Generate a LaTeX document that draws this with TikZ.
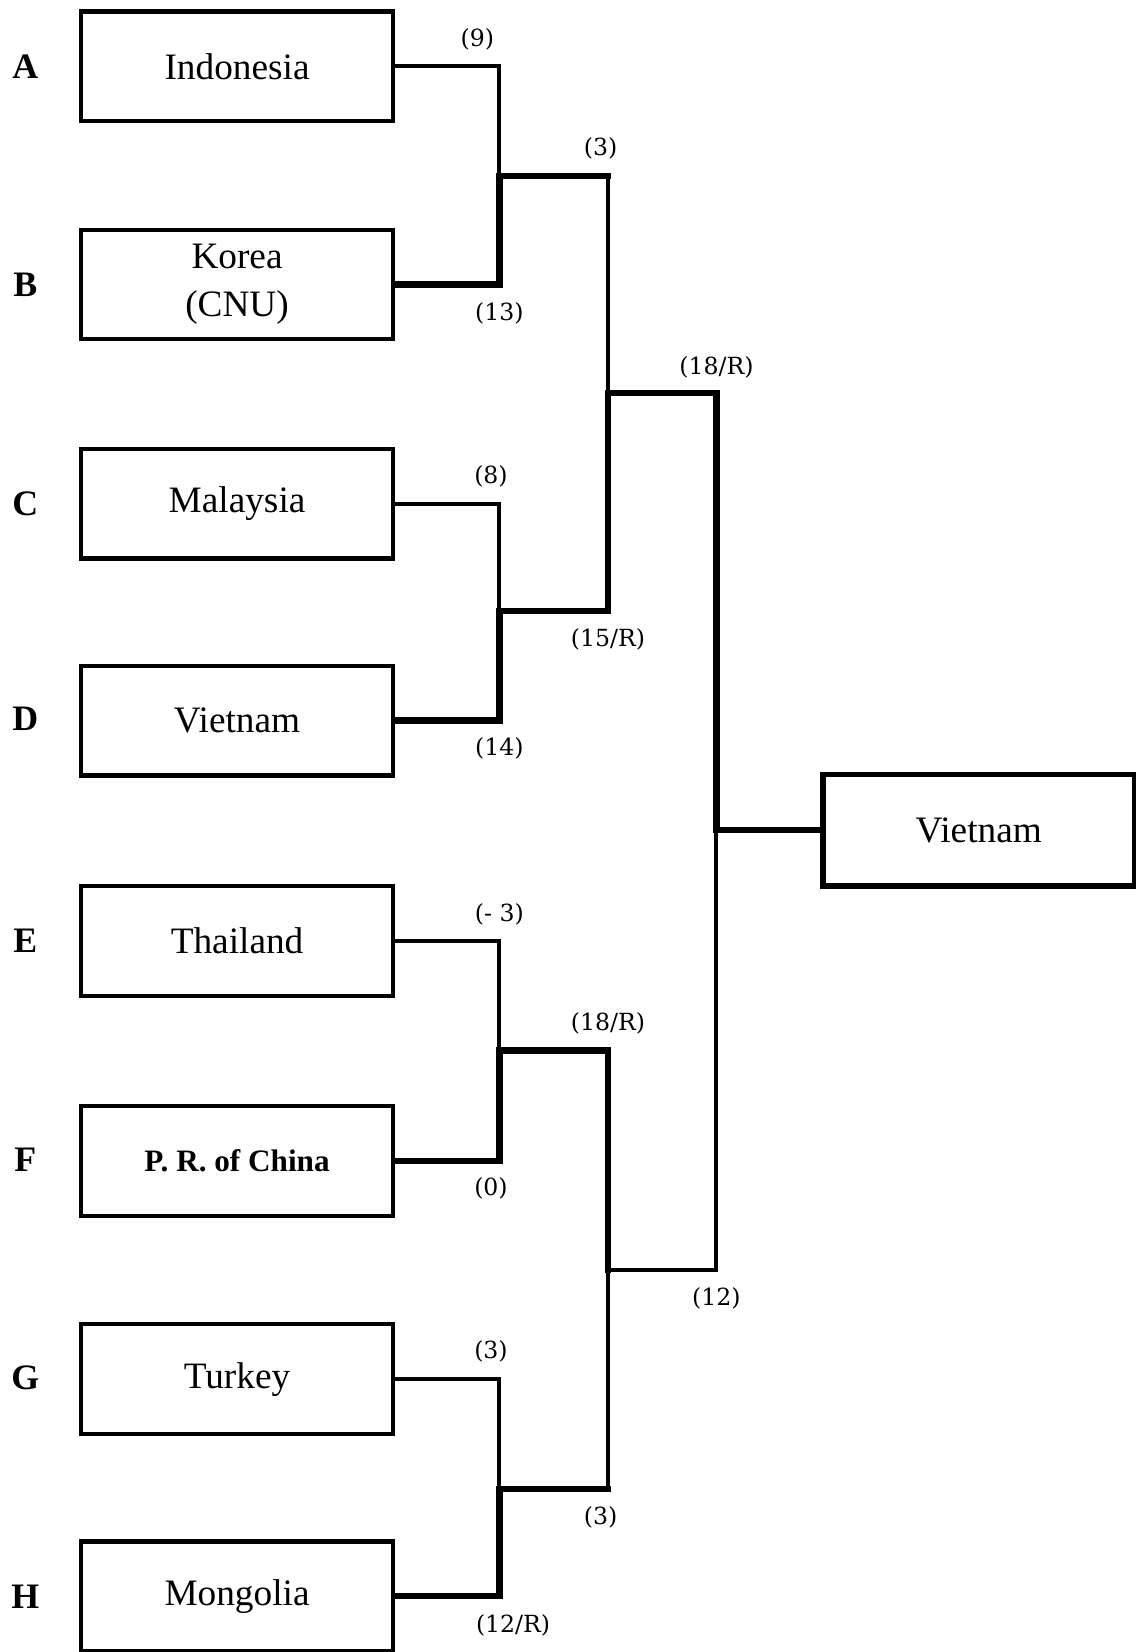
\documentclass[tikz,border=0pt]{standalone}
\usepackage{fontspec}
\setmainfont{Liberation Serif}
\newfontfamily\scorefont{DejaVu Serif}
\begin{document}
\begin{tikzpicture}[x=0.5pt,y=-0.5pt,
  team/.style={draw,line width=2pt,minimum width=148pt,minimum height=52pt,inner sep=0pt,font=\fontsize{17.7}{23}\selectfont,align=center},
  champ/.style={team,line width=2.7pt,minimum height=53pt},
  letter/.style={font=\fontsize{17}{20}\selectfont\bfseries},
  score/.style={font=\scorefont\fontsize{11.2}{13}\selectfont,inner sep=0pt},
  thinline/.style={line width=1.9pt,line cap=rect},
  thickline/.style={line width=3pt,line cap=rect}]
\useasboundingbox (0,0) rectangle (1078,1568);
% teams
\node[team] (A) at (225,63) {Indonesia};
\node[team] (B) at (225,270) {Korea\\(CNU)};
\node[team] (C) at (225,478) {Malaysia};
\node[team] (D) at (225,684) {Vietnam};
\node[team] (E) at (225,893) {Thailand};
\node[team,font=\fontsize{14.8}{17}\selectfont\bfseries] (F) at (225,1102) {P. R. of China};
\node[team] (G) at (225,1309) {Turkey};
\node[team] (H) at (225,1515) {Mongolia};
\node[champ] (W) at (929,788) {Vietnam};
% letters
\node[letter] (lA) at (24,63) {A};
\node[letter] (lB) at (24,270) {B};
\node[letter] (lC) at (24,478) {C};
\node[letter] (lD) at (24,682) {D};
\node[letter] (lE) at (24,893) {E};
\node[letter] (lF) at (24,1101) {F};
\node[letter] (lG) at (24,1308) {G};
\node[letter] (lH) at (24,1516) {H};
% junctions
\coordinate (m1) at (474,167);
\coordinate (m2) at (474,580);
\coordinate (m3) at (474,997);
\coordinate (m4) at (474,1413);
\coordinate (t1) at (577,167);
\coordinate (b4) at (577,1413);
\coordinate (s1) at (577,373);
\coordinate (s2) at (577,1205);
\coordinate (f) at (680,788);
% first round
\draw[thinline] (A.east) -| (m1);
\draw[thickline] (B.east) -| (m1);
\draw[thinline] (C.east) -| (m2);
\draw[thickline] (D.east) -| (m2);
\draw[thinline] (E.east) -| (m3);
\draw[thickline] (F.east) -| (m3);
\draw[thinline] (G.east) -| (m4);
\draw[thickline] (H.east) -| (m4);
% second round
\draw[thickline] (m1) -- (t1);
\draw[thinline] (t1) -- (s1);
\draw[thickline] (m2) -| (s1);
\draw[thickline] (m3) -| (s2);
\draw[thickline] (m4) -- (b4);
\draw[thinline] (b4) -- (s2);
% semifinal
\draw[thickline] (s1) -| (f);
\draw[thinline] (s2) -| (f);
\draw[thickline] (f) -- (W.west);
% scores
\node[score] (sc1) at (453,37) {(9)};
\node[score] (sc2) at (474,297) {(13)};
\node[score] (sc3) at (570,141) {(3)};
\node[score] (sc4) at (466,452) {(8)};
\node[score] (sc5) at (474,710) {(14)};
\node[score] (sc6) at (577,607) {(15/R)};
\node[score] (sc7) at (680,349) {(18/R)};
\node[score] (sc8) at (474,868) {(- 3)};
\node[score] (sc9) at (466,1128) {(0)};
\node[score] (sc10) at (577,971) {(18/R)};
\node[score] (sc11) at (680,1232) {(12)};
\node[score] (sc12) at (466,1283) {(3)};
\node[score] (sc13) at (487,1543) {(12/R)};
\node[score] (sc14) at (570,1440) {(3)};
\end{tikzpicture}
\end{document}
